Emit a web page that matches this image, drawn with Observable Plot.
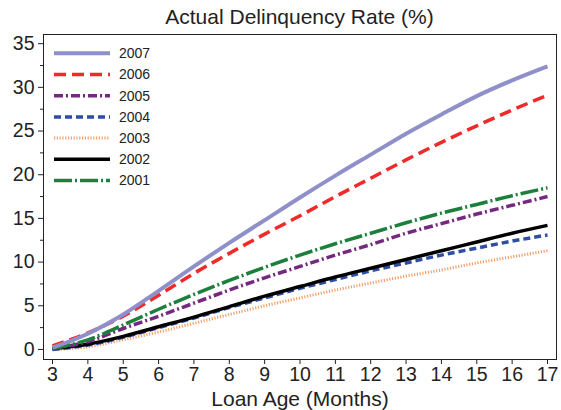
<!DOCTYPE html>
<html>
<head>
<meta charset="utf-8">
<script src="https://cdn.jsdelivr.net/npm/d3@7"></script>
<script src="https://cdn.jsdelivr.net/npm/@observablehq/plot@0.6"></script>
<style>
  html, body { margin: 0; padding: 0; background: #fff; }
  #wrap { position: relative; width: 561px; height: 410px; font-family: "Liberation Sans", Arial, sans-serif; color: #222; }
  #title { height: 30px; line-height: 34px; padding-left: 43px; width: 513px; text-align: center; font-size: 21px; }
  #legend { position: absolute; left: 0; top: 0; }
</style>
</head>
<body>
<div id="wrap">
  <div id="title">Actual Delinquency Rate (%)</div>
  <div id="chart"></div>
  <svg id="legend" width="200" height="200"></svg>
</div>
<script>
// ---- data ----
const months = [3, 4, 5, 6, 7, 8, 9, 10, 11, 12, 13, 14, 15, 16, 17];
const years = ["2007", "2006", "2005", "2004", "2003", "2002", "2001"];
const rate2007 = [0.2, 1.8, 4.0, 6.7, 9.5, 12.2, 14.8, 17.4, 19.9, 22.3, 24.7, 26.9, 29.0, 30.8, 32.4];
const rate2006 = [0.4, 1.9, 3.8, 6.2, 8.7, 11.0, 13.2, 15.3, 17.5, 19.6, 21.7, 23.7, 25.6, 27.4, 29.1];
const rate2005 = [0.1, 0.9, 2.4, 3.8, 5.3, 6.8, 8.2, 9.5, 10.8, 12.0, 13.3, 14.4, 15.5, 16.5, 17.5];
const rate2004 = [0.0, 0.5, 1.4, 2.5, 3.6, 4.8, 5.9, 7.0, 8.0, 9.0, 9.9, 10.8, 11.6, 12.4, 13.1];
const rate2003 = [0.0, 0.3, 1.1, 2.0, 3.0, 4.0, 5.0, 5.9, 6.8, 7.6, 8.4, 9.1, 9.9, 10.6, 11.3];
const rate2002 = [0.1, 0.6, 1.5, 2.6, 3.7, 4.9, 6.1, 7.2, 8.3, 9.3, 10.3, 11.3, 12.3, 13.3, 14.2];
const rate2001 = [0.1, 1.1, 2.8, 4.6, 6.3, 7.9, 9.4, 10.8, 12.1, 13.3, 14.5, 15.6, 16.6, 17.6, 18.5];
const xTicks = [3, 4, 5, 6, 7, 8, 9, 10, 11, 12, 13, 14, 15, 16, 17];
const yTicks = [0, 5, 10, 15, 20, 25, 30, 35];
const yMinorTicks = [2.5, 7.5, 12.5, 17.5, 22.5, 27.5, 32.5];

// ---- styles ----
const seriesValues = { "2007": rate2007, "2006": rate2006, "2005": rate2005, "2004": rate2004, "2003": rate2003, "2002": rate2002, "2001": rate2001 };
const styles = {
  "2007": { stroke: "#8f8fca", width: 4, dash: null },
  "2006": { stroke: "#f02a2a", width: 3.5, dash: "12,6" },
  "2005": { stroke: "#75287f", width: 3.5, dash: "9,3,2,3" },
  "2004": { stroke: "#2e4ea6", width: 3.5, dash: "7,4" },
  "2003": { stroke: "#f0a06c", width: 3, dash: "1.2,1.6" },
  "2002": { stroke: "#000000", width: 3.5, dash: null },
  "2001": { stroke: "#1c7f3c", width: 3.5, dash: "18,3,2,3" }
};
const drawOrder = ["2003", "2004", "2002", "2005", "2001", "2006", "2007"];

const table = years.flatMap(y => months.map((m, i) => ({ year: y, month: m, value: seriesValues[y][i] })));

const lineMarks = drawOrder.map(y => Plot.line(table.filter(d => d.year === y), {
  x: "month", y: "value", curve: "monotone-x",
  stroke: styles[y].stroke, strokeWidth: styles[y].width,
  strokeDasharray: styles[y].dash || undefined, strokeLinecap: "butt"
}));

const chart = Plot.plot({
  width: 561, height: 380,
  marginLeft: 43, marginRight: 5, marginTop: 4, marginBottom: 51,
  style: { fontFamily: "'Liberation Sans', Arial, sans-serif", fontSize: "19.5px", color: "#222", background: "#fff" },
  x: { domain: [2.745, 17.255] },
  y: { domain: [-1.15, 36.05] },
  marks: [
    Plot.axisY({ ticks: yMinorTicks, tickSize: 3, tickFormat: () => "", label: null }),
    Plot.axisY({ ticks: yTicks, tickSize: 5, tickPadding: 4, fontSize: 19.5, label: null }),
    Plot.axisX({ ticks: xTicks, tickSize: 5, tickPadding: 3, fontSize: 19.5, tickFormat: d => String(d), label: null }),
    ...lineMarks,
    Plot.frame({ stroke: "#222", strokeWidth: 1 }),
    Plot.text(["Loan Age (Months)"], { frameAnchor: "bottom", dy: 40, lineAnchor: "middle", fontSize: 21, fill: "#222" })
  ]
});
document.getElementById("chart").appendChild(chart);

// ---- legend (overlay inside the plot frame) ----
const leg = d3.select("#legend");
years.forEach((y, i) => {
  const cy = 53.3 + i * 21.2;
  const s = styles[y];
  leg.append("line").attr("x1", 54).attr("x2", 110).attr("y1", cy).attr("y2", cy)
    .attr("stroke", s.stroke).attr("stroke-width", s.width)
    .attr("stroke-dasharray", s.dash);
  leg.append("text").attr("x", 119).attr("y", cy).attr("dy", "0.35em")
    .attr("font-size", 14).attr("fill", "#222")
    .attr("font-family", "'Liberation Sans', Arial, sans-serif").text(y);
});
</script>
</body>
</html>
